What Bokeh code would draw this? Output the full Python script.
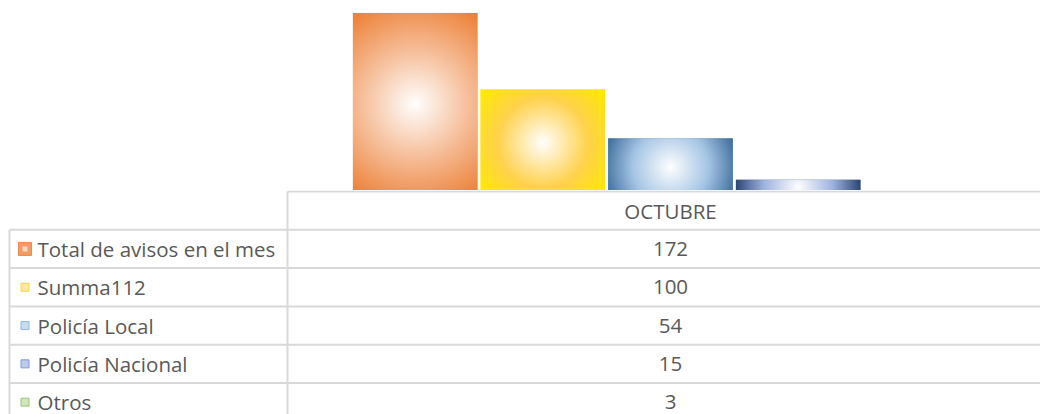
import numpy as np
from bokeh.plotting import figure
from bokeh.layouts import column
from bokeh.models import Range1d
from bokeh.core.properties import value
from bokeh.embed import file_html
from bokeh.resources import INLINE

# ---------------- data ----------------
month = "OCTUBRE"
series = ["Total de avisos en el mes", "Summa112", "Policía Local",
          "Policía Nacional", "Otros"]
values = [172, 100, 54, 15, 3]

# ---------------- styles ----------------
edge_colors = ["#ED7D31", "#FFEC00", "#3D6C9C", "#2C4472", "#70AD47"]
mid_colors = ["#F5B68C", "#FFD24C", "#A6C6E6", "#9FB3E0", "#B5D99C"]
key_fill = ["#F29B62", "#FFEAA0", "#C9DDF2", "#BCCBEC", "#CDE6BC"]
key_line = ["#EF8A4A", "#FFD24C", "#8DB8E2", "#7E9CD6", "#98C87A"]
key_size = [13, 8, 8, 8, 8]
TEXT_COLOR = "#595959"
GRID_COLOR = "#D9D9D9"
FONT = "Open Sans"
FONT_SIZE = "20.5px"

# ---------------- layout (pixels) ----------------
W = 1040
CHART_H = 190
TABLE_H = 224
LEFT_PAD_PX = 9
LABEL_COL_PX = 278
DATA_COL_PX = 766
ROW_PX = 38.3
TOP_PAD_PX = 1
TEXT_OFF_PX = 28
KEY_OFF_PX = 15.5

PX_PER_UNIT = 1.0633
Y_MIN = 5
Y_MAX = Y_MIN + CHART_H / PX_PER_UNIT
GAP_WIDTH = 1.0  # Excel gap width 100%

x0 = -(LEFT_PAD_PX + LABEL_COL_PX) / DATA_COL_PX
xr = Range1d(x0, x0 + W / DATA_COL_PX)
left_border = -LABEL_COL_PX / DATA_COL_PX

# ---------------- bar chart ----------------
top = figure(width=W, height=CHART_H, x_range=xr, y_range=Range1d(Y_MIN, Y_MAX),
             output_backend="svg", toolbar_location=None, min_border=0,
             x_axis_type=None, y_axis_type=None, outline_line_color=None)

n = len(values)
pitch = 1.0 / (n + GAP_WIDTH)
centers = [0.5 + (i - (n - 1) / 2) * pitch for i in range(n)]
bw = pitch * 0.975
top.vbar(x=centers, top=values, bottom=0, width=bw,
         fill_color=edge_colors, line_color=None)


def hex2rgb(h):
    h = h.lstrip("#")
    return np.array([int(h[k:k + 2], 16) for k in (0, 2, 4)], dtype=float)


for c, v, ec, mc in zip(centers, values, edge_colors, mid_colors):
    nx = int(round(bw * DATA_COL_PX))
    ny = int(round(v * PX_PER_UNIT))
    if ny < 2 or v <= Y_MIN:
        continue
    dx = np.arange(nx) + 0.5 - nx / 2
    dy = np.arange(ny) + 0.5 - ny / 2
    DX, DY = np.meshgrid(dx, dy)
    r = np.sqrt(DX ** 2 + DY ** 2) / np.sqrt((nx / 2) ** 2 + (ny / 2) ** 2)
    stops = [0.0, 0.55, 1.0]
    cols = [hex2rgb("#FFFFFF"), hex2rgb(mc), hex2rgb(ec)]
    rgba = np.zeros((ny, nx, 4), dtype=np.uint8)
    for ch in range(3):
        rgba[:, :, ch] = np.interp(r, stops, [cc[ch] for cc in cols]).astype(np.uint8)
    rgba[:, :, 3] = 255
    img = rgba.view(dtype=np.uint32).reshape((ny, nx))
    top.image_rgba(image=[img], x=c - bw / 2, y=0, dw=bw, dh=v)

# ---------------- data table ----------------
nrows = len(series) + 1
table = figure(width=W, height=TABLE_H, x_range=xr,
               y_range=Range1d((TABLE_H - TOP_PAD_PX) / ROW_PX, -TOP_PAD_PX / ROW_PX),
               output_backend="svg", toolbar_location=None, min_border=0,
               x_axis_type=None, y_axis_type=None, outline_line_color=None)

x_right = xr.end + 0.1
hx0 = [0.0] + [left_border] * len(series)
hx1 = [x_right] * nrows
hy = list(range(nrows))
table.segment(x0=hx0, y0=hy, x1=hx1, y1=hy, line_color=GRID_COLOR, line_width=2)
table.segment(x0=[left_border, 0.0], y0=[1, 0], x1=[left_border, 0.0],
              y1=[nrows + 1, nrows + 1], line_color=GRID_COLOR, line_width=2)

rows_mid = [i + 1.5 for i in range(len(series))]
table.text(x=[0.5], y=[0.5], text=[month], text_align="center", text_baseline="middle",
           text_color=TEXT_COLOR, text_font=value(FONT), text_font_size=FONT_SIZE)
table.text(x=[0.5] * len(values), y=rows_mid, text=[str(v) for v in values],
           text_align="center", text_baseline="middle",
           text_color=TEXT_COLOR, text_font=value(FONT), text_font_size=FONT_SIZE)
table.text(x=[left_border + TEXT_OFF_PX / DATA_COL_PX] * len(series), y=rows_mid,
           text=series, text_align="left", text_baseline="middle",
           text_color=TEXT_COLOR, text_font=value(FONT), text_font_size=FONT_SIZE)
key_x = [left_border + KEY_OFF_PX / DATA_COL_PX] * len(series)
table.rect(x=key_x, y=rows_mid, width=key_size, height=key_size,
           width_units="screen", height_units="screen",
           fill_color=key_fill, line_color=key_line, line_width=1)
table.rect(x=key_x[:1], y=rows_mid[:1], width=[5], height=[5],
           width_units="screen", height_units="screen",
           fill_color="#FFFFFF", fill_alpha=0.6, line_color=None)

layout = column(top, table, spacing=0)
open("out.html", "w").write(file_html(layout, INLINE))
